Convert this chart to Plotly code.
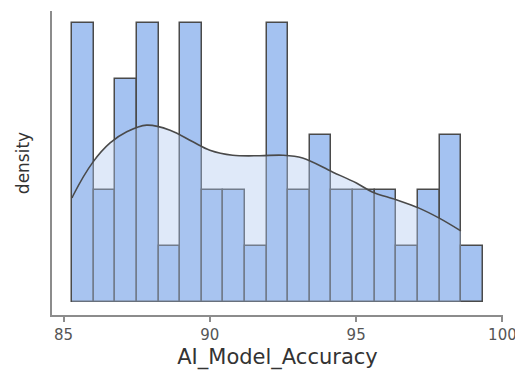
import numpy as np
import plotly.graph_objects as go

# ---- data ----
n_samples = 50
bin_start = 85.29
bin_width = 0.739
bin_counts = [5, 2, 4, 5, 1, 5, 2, 2, 1, 5, 2, 3, 2, 2, 2, 1, 2, 3, 1]

# KDE curve (in count-scale units)
kde_x = [85.29, 85.34, 86.01, 86.59, 87.16, 87.84, 88.64, 89.42, 90.00, 90.78,
         91.71, 92.49, 93.17, 94.19, 95.01, 95.55, 96.37, 97.15, 97.84, 98.52, 98.58]
kde_counts = [1.86, 1.92, 2.51, 2.85, 3.05, 3.17, 3.08, 2.87, 2.72, 2.63,
              2.62, 2.63, 2.58, 2.33, 2.13, 1.97, 1.83, 1.68, 1.50, 1.29, 1.27]

x_ticks = [85, 90, 95, 100]
x_title = "AI_Model_Accuracy"
y_title = "density"

# ---- derived ----
scale = n_samples * bin_width
centers = bin_start + bin_width * (np.arange(len(bin_counts)) + 0.5)
density = np.array(bin_counts) / scale
kde_density = np.array(kde_counts) / scale

fig = go.Figure()
fig.add_trace(go.Bar(
    x=centers, y=density, width=bin_width,
    marker=dict(color="#a4c2f1", line=dict(color="#4a4a4a", width=1.5)),
    showlegend=False, hoverinfo="skip",
))
fig.add_trace(go.Scatter(
    x=kde_x, y=kde_density, mode="lines", fill="tozeroy",
    fillcolor="rgba(175,200,240,0.40)",
    line=dict(color="#4a4a4a", width=1.6, shape="spline"),
    showlegend=False, hoverinfo="skip",
))

font = "DejaVu Sans"
fig.update_layout(
    width=515, height=370,
    margin=dict(l=52, r=12, t=11, b=55),
    paper_bgcolor="white", plot_bgcolor="white",
    bargap=0,
    xaxis=dict(
        range=[84.605, 100.02], tickvals=x_ticks, ticktext=[str(t) for t in x_ticks],
        automargin=False, ticklabeloverflow="allow",
        showgrid=False, zeroline=False,
        showline=True, linecolor="#8c8c8c", linewidth=2,
        ticks="outside", ticklen=5, tickwidth=2, tickcolor="#8c8c8c",
        tickfont=dict(family=font, size=15, color="#555555"),
        title=dict(text=x_title, font=dict(family=font, size=21, color="#333333"), standoff=10),
    ),
    yaxis=dict(
        range=[-0.239 / scale, 5.219 / scale],
        automargin=False,
        showgrid=False, zeroline=False, showticklabels=False, ticks="",
        showline=True, linecolor="#8c8c8c", linewidth=2,
        title=dict(text=y_title, font=dict(family=font, size=17, color="#333333"), standoff=16),
    ),
)

fig.write_html("out.html")
